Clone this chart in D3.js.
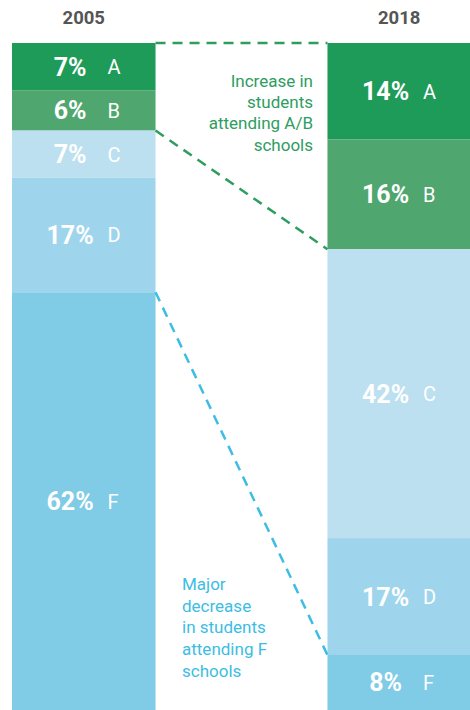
<!DOCTYPE html>
<html>
<head>
<meta charset="utf-8">
<script src="https://cdn.jsdelivr.net/npm/d3@7"></script>
<style>
  body { margin: 0; background: #fff; }
  svg { display: block; font-family: Roboto, "Noto Sans", sans-serif; }
</style>
</head>
<body>
<script>
// data
let years = ["2005", "2018"];
let grades = ["A", "B", "C", "D", "F"];
let share2005 = [7, 6, 7, 17, 62];
let share2018 = [14, 16, 42, 17, 8];

let width = 470, height = 710;
let barTop = 43, barBottom = 710;

let colors = d3.scaleOrdinal()
    .domain(grades)
    .range(["#1f9b59", "#4fa66e", "#bce0f0", "#9ed5ec", "#80cbe6"]);

let svg = d3.select('body')
    .append('svg')
    .attr('width', width)
    .attr('height', height);

let x = d3.scaleBand()
    .domain(years)
    .range([12, 471])
    .paddingInner(0.545)
    .paddingOuter(0);

let bw = x.bandwidth();

// stacked segments per year
let columns = [share2005, share2018].map(function (vals, i) {
    let y = d3.scaleLinear().domain([0, d3.sum(vals)]).range([barTop, barBottom]);
    let ends = d3.cumsum(vals);
    let segs = vals.map(function (v, j) {
        return { year: years[i], grade: grades[j], value: v, y0: ends[j] - v, y1: ends[j] };
    });
    return { year: years[i], y: y, segs: segs };
});

columns.forEach(function (col) {
    let g = svg.append('g');
    let x0 = x(col.year);

    g.selectAll('rect')
        .data(col.segs)
        .join('rect')
        .attr('x', x0)
        .attr('y', d => col.y(d.y0))
        .attr('width', bw)
        .attr('height', d => col.y(d.y1) - col.y(d.y0))
        .attr('fill', d => colors(d.grade));

    g.selectAll('text.pct')
        .data(col.segs)
        .join('text')
        .attr('class', 'pct')
        .attr('x', x0 + bw * 0.405)
        .attr('y', d => (col.y(d.y0) + col.y(d.y1)) / 2)
        .attr('dy', '0.36em')
        .attr('text-anchor', 'middle')
        .attr('fill', '#fff')
        .style('font-size', '25px')
        .style('font-weight', 'bold')
        .text(d => d.value + '%');

    g.selectAll('text.grade')
        .data(col.segs)
        .join('text')
        .attr('class', 'grade')
        .attr('x', x0 + bw * 0.665)
        .attr('y', d => (col.y(d.y0) + col.y(d.y1)) / 2)
        .attr('dy', '0.37em')
        .attr('fill', '#fff')
        .style('font-size', '20px')
        .text(d => d.grade);

    svg.append('text')
        .attr('x', x0 + bw / 2)
        .attr('y', 24)
        .attr('text-anchor', 'middle')
        .attr('fill', '#555')
        .style('font-size', '18.5px')
        .style('font-weight', 'bold')
        .text(col.year);
});

// dashed connectors between the two columns
let left = columns[0], right = columns[1];
let lx = x(years[0]) + bw, rx = x(years[1]);

function connector(l, r, color) {
    svg.append('line')
        .attr('x1', lx)
        .attr('y1', left.y(l))
        .attr('x2', rx)
        .attr('y2', right.y(r))
        .attr('stroke', color)
        .attr('stroke-width', 2.5)
        .attr('stroke-dasharray', '10,7');
}

connector(0, 0, '#2e9d5f');
connector(left.segs[1].y1, right.segs[1].y1, '#2e9d5f');
connector(left.segs[4].y0, right.segs[4].y0, '#3dbde3');

// annotations
let noteAB = ["Increase in", "students", "attending A/B", "schools"];
let noteF = ["Major", "decrease", "in students", "attending F", "schools"];

svg.append('text')
    .attr('fill', '#2e9d5f')
    .attr('text-anchor', 'end')
    .style('font-size', '17px')
    .selectAll('tspan')
    .data(noteAB)
    .join('tspan')
    .attr('x', 313)
    .attr('y', (d, i) => 87 + i * 21.2)
    .text(d => d);

svg.append('text')
    .attr('fill', '#3dbde3')
    .style('font-size', '17px')
    .selectAll('tspan')
    .data(noteF)
    .join('tspan')
    .attr('x', 182)
    .attr('y', (d, i) => 590 + i * 21.7)
    .text(d => d);
</script>
</body>
</html>
